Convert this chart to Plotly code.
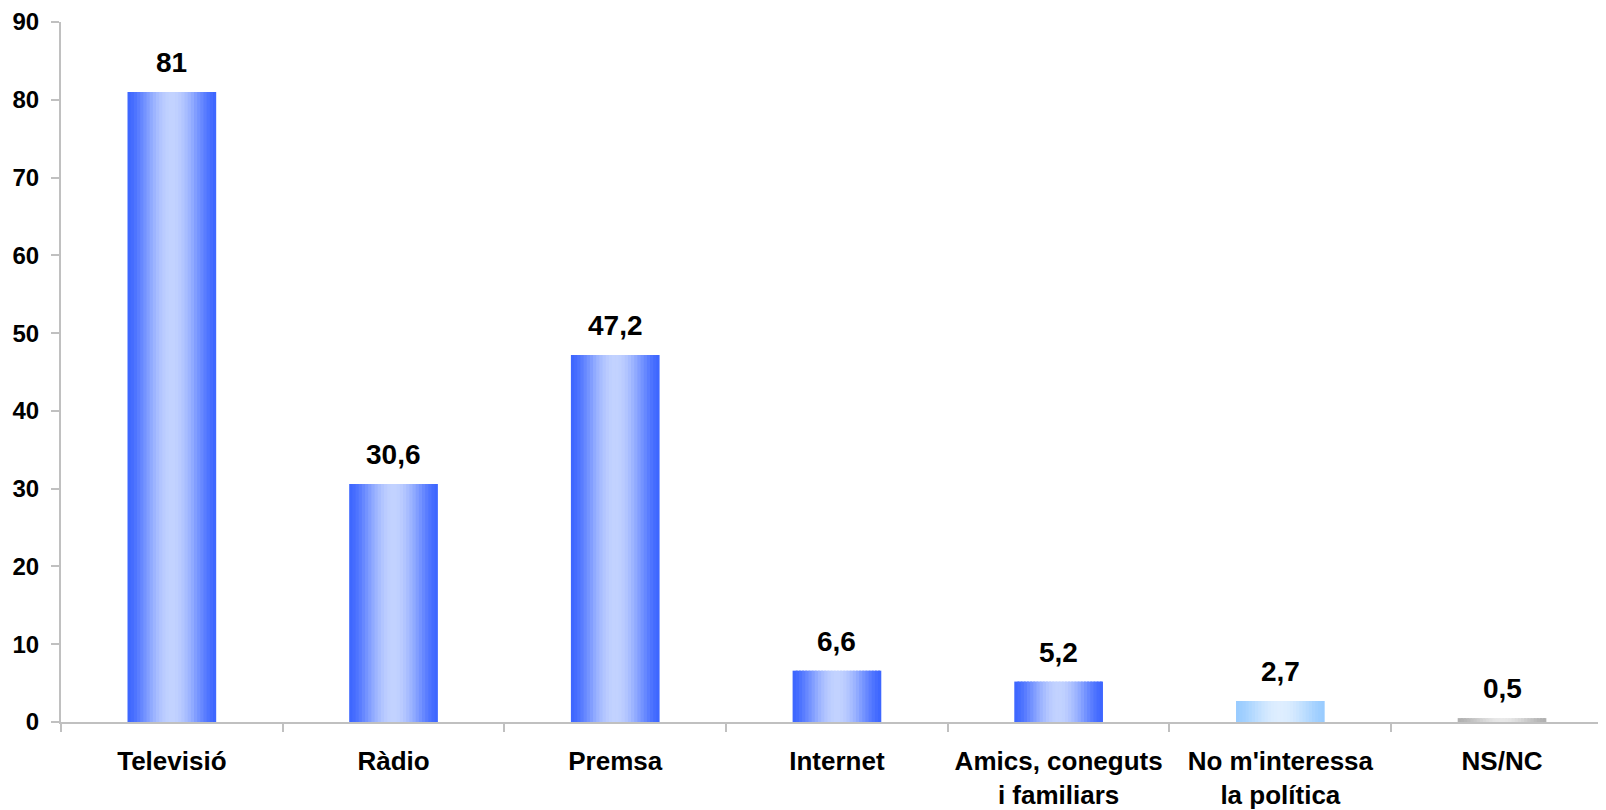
import plotly.graph_objects as go
import math

categories = ["Televisió", "Ràdio", "Premsa", "Internet",
              "Amics, coneguts<br>i familiars", "No m'interessa<br>la política", "NS/NC"]
values = [81, 30.6, 47.2, 6.6, 5.2, 2.7, 0.5]
value_labels = ["81", "30,6", "47,2", "6,6", "5,2", "2,7", "0,5"]
y_ticks = [0, 10, 20, 30, 40, 50, 60, 70, 80, 90]

# gradient palettes (edge, centre) per bar
edge_cols = [(61, 102, 255)] * 5 + [(153, 204, 255), (176, 176, 176)]
centre_cols = [(194, 210, 255)] * 5 + [(222, 238, 255), (232, 232, 232)]

FONT = "Liberation Sans, Arial, sans-serif"
BAR_W = 0.40
N = 28
step = BAR_W / N

def mix(a, b, f):
    return "rgb(%d,%d,%d)" % tuple(round(a[i] + (b[i] - a[i]) * f) for i in range(3))

fig = go.Figure()
for k in range(N):
    t = (k + 0.5) / N
    f = math.sin(math.pi * t) ** 1.6
    cols = [mix(edge_cols[i], centre_cols[i], f) for i in range(len(values))]
    w = step * 1.6 if k < N - 1 else step
    fig.add_trace(go.Bar(
        x=categories, y=values,
        width=w, offset=-BAR_W / 2 + k * step,
        marker=dict(color=cols, line=dict(width=0)),
        hoverinfo="skip", showlegend=False,
    ))

for c, v, lab in zip(categories, values, value_labels):
    fig.add_annotation(x=c, y=v, text=lab, showarrow=False,
                       yanchor="bottom", yshift=12,
                       font=dict(family=FONT, size=28, color="black", weight="bold"))

fig.update_layout(
    width=1598, height=802,
    margin=dict(l=53, r=0, t=13, b=87),
    barmode="overlay",
    plot_bgcolor="white", paper_bgcolor="white",
    font=dict(family=FONT, color="black"),
)
fig.update_xaxes(
    type="category", range=[-0.5, 6.469],
    showline=True, linecolor="#C0C0C0", linewidth=2,
    ticks="outside", ticklen=8, tickcolor="#C0C0C0", tickwidth=2,
    tickson="boundaries", showgrid=False, zeroline=False,
    tickfont=dict(family=FONT, size=26, color="black", weight="bold"),
    ticklabelstandoff=15,
)
fig.update_yaxes(
    range=[0, 90], tickvals=y_ticks,
    showline=True, linecolor="#C0C0C0", linewidth=2,
    ticks="outside", ticklen=8, tickcolor="#C0C0C0", tickwidth=2,
    showgrid=False, zeroline=False, ticklabeloverflow="allow",
    tickfont=dict(family=FONT, size=24, color="black", weight="bold"),
    ticklabelstandoff=7,
)
fig.write_html("out.html")
